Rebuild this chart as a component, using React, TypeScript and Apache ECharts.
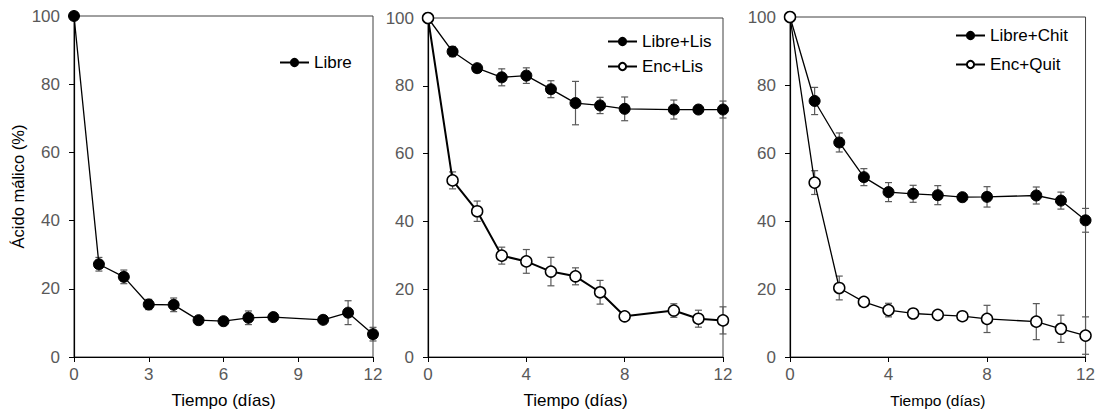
import React, { useEffect, useRef } from "react";
import * as echarts from "echarts";

const days = [0, 1, 2, 3, 4, 5, 6, 7, 8, 10, 11, 12];

const libre = [100, 27.2, 23.5, 15.4, 15.3, 10.8, 10.5, 11.5, 11.7, 10.9, 13.0, 6.7];
const libreErr = [0, 2, 2, 1.5, 2, 1, 0.6, 2, 0.8, 0.8, 3.5, 2];

const libreLis = [100, 90.1, 85.2, 82.5, 83.0, 79.0, 74.9, 74.2, 73.2, 73.0, 73.0, 73.0];
const libreLisErr = [0, 1.5, 0.8, 2.5, 2.3, 2.5, 6.4, 2.4, 3.5, 2.8, 0.8, 2.5];
const encLis = [100, 52.1, 43.0, 29.9, 28.2, 25.2, 23.8, 19.1, 12.0, 13.7, 11.3, 10.8];
const encLisErr = [0, 2.5, 3, 2.5, 3.5, 4.2, 2.5, 3.5, 0.5, 2, 2.5, 4];

const libreChit = [100, 75.3, 63.1, 52.9, 48.5, 48.0, 47.6, 47.0, 47.1, 47.5, 46.0, 40.2];
const libreChitErr = [0, 4, 2.8, 2.5, 2.8, 2.5, 2.8, 1, 3, 2.5, 2.5, 3.5];
const encQuit = [100, 51.3, 20.3, 16.2, 13.8, 12.8, 12.4, 12.0, 11.2, 10.4, 8.3, 6.3];
const encQuitErr = [0, 3.5, 3.5, 0.8, 2, 0.8, 0.8, 0.8, 4, 5.3, 4, 5.5];

const xTitle = "Tiempo (días)";
const yTitle = "Ácido málico (%)";

const FONT = "Liberation Sans, Arial, sans-serif";
const GRAY = "#595959";

export default function App() {
  const ref = useRef<HTMLDivElement>(null);
  useEffect(() => {
    if (!ref.current) return;
    const chart = echarts.init(ref.current, null, { renderer: "svg" });

    const grids = [
      { left: 74, top: 16, width: 299, height: 341 },
      { left: 428, top: 18, width: 295, height: 340 },
      { left: 790, top: 17, width: 297, height: 340 },
    ].map((g) => ({ ...g, show: true, borderColor: "#404040", borderWidth: 1, backgroundColor: "transparent" }));

    const intervals = [3, 4, 4];
    const xAxes = intervals.map((iv, i) => ({
      type: "value",
      gridIndex: i,
      min: 0,
      max: 12,
      interval: iv,
      name: xTitle,
      nameLocation: "middle",
      nameGap: 35,
      nameTextStyle: { fontFamily: FONT, fontSize: i === 2 ? 15.5 : 17, color: "#000", fontWeight: "normal" },
      axisLine: { show: true, lineStyle: { color: "#000", width: 1.2 } },
      axisTick: { show: true, inside: false, length: 5, lineStyle: { color: "#000" } },
      axisLabel: { fontFamily: FONT, fontSize: 17, color: GRAY, margin: 9 },
      splitLine: { show: false },
    }));
    const yAxes = [0, 1, 2].map((i) => ({
      type: "value",
      gridIndex: i,
      min: 0,
      max: 100,
      interval: 20,
      name: i === 0 ? yTitle : "",
      nameLocation: "middle",
      nameGap: 48,
      nameTextStyle: { fontFamily: FONT, fontSize: 16.5, color: "#000", fontWeight: "normal" },
      axisLine: { show: true, lineStyle: { color: "#000", width: 1.2 } },
      axisTick: { show: true, inside: false, length: 5, lineStyle: { color: "#000" } },
      axisLabel: { fontFamily: FONT, fontSize: 17, color: GRAY, margin: 14 },
      splitLine: { show: false },
    }));

    const mk = (arr: number[]) => days.map((d, i) => [d, arr[i]]);
    const mkErr = (arr: number[], err: number[]) => days.map((d, i) => [d, arr[i], err[i]]);

    const lineSeries = (name: string, arr: number[], gi: number, filled: boolean, lw: number) => ({
      type: "line",
      name,
      xAxisIndex: gi,
      yAxisIndex: gi,
      data: mk(arr),
      symbol: "circle",
      symbolSize: 11,
      clip: false,
      z: 3,
      lineStyle: { color: "#000", width: lw },
      itemStyle: filled
        ? { color: "#000", borderColor: "#000", borderWidth: 1 }
        : { color: "#fff", borderColor: "#000", borderWidth: 1.5 },
    });

    const errSeries = (name: string, arr: number[], err: number[], gi: number) => ({
      type: "custom",
      name,
      xAxisIndex: gi,
      yAxisIndex: gi,
      data: mkErr(arr, err),
      encode: { x: 0, y: 1 },
      clip: false,
      z: 1,
      renderItem: (_p: any, api: any) => {
        const x = api.value(0);
        const y = api.value(1);
        const e = api.value(2);
        const t = api.coord([x, y + e]);
        const b = api.coord([x, y - e]);
        const st = { stroke: GRAY, lineWidth: 1.2 };
        const w = 3.5;
        return {
          type: "group",
          children: [
            { type: "line", shape: { x1: t[0], y1: t[1], x2: b[0], y2: b[1] }, style: st },
            { type: "line", shape: { x1: t[0] - w, y1: t[1], x2: t[0] + w, y2: t[1] }, style: st },
            { type: "line", shape: { x1: b[0] - w, y1: b[1], x2: b[0] + w, y2: b[1] }, style: st },
          ],
        };
      },
    });

    const legendBase = {
      orient: "vertical",
      itemWidth: 29,
      itemHeight: 9,
      textStyle: { fontFamily: FONT, fontSize: 17, color: "#000" },
      backgroundColor: "transparent",
      padding: 0,
    };

    chart.setOption({
      animation: false,
      grid: grids,
      xAxis: xAxes,
      yAxis: yAxes,
      legend: [
        { ...legendBase, left: 279, top: 54, data: ["Libre"] },
        { ...legendBase, left: 607, top: 33, itemGap: 8, data: ["Libre+Lis", "Enc+Lis"] },
        { ...legendBase, left: 955, top: 27, itemGap: 12, data: ["Libre+Chit", "Enc+Quit"] },
      ],
      series: [
        errSeries("e1", libre, libreErr, 0),
        lineSeries("Libre", libre, 0, true, 1.3),
        errSeries("e2", libreLis, libreLisErr, 1),
        errSeries("e3", encLis, encLisErr, 1),
        lineSeries("Libre+Lis", libreLis, 1, true, 1.3),
        lineSeries("Enc+Lis", encLis, 1, false, 2),
        errSeries("e4", libreChit, libreChitErr, 2),
        errSeries("e5", encQuit, encQuitErr, 2),
        lineSeries("Libre+Chit", libreChit, 2, true, 1.3),
        lineSeries("Enc+Quit", encQuit, 2, false, 1.3),
      ],
    });
    return () => chart.dispose();
  }, []);
  return (
    <div
      ref={ref}
      style={{ position: "fixed", left: 0, top: 0, width: 1098, height: 414, background: "#fff" }}
    />
  );
}
